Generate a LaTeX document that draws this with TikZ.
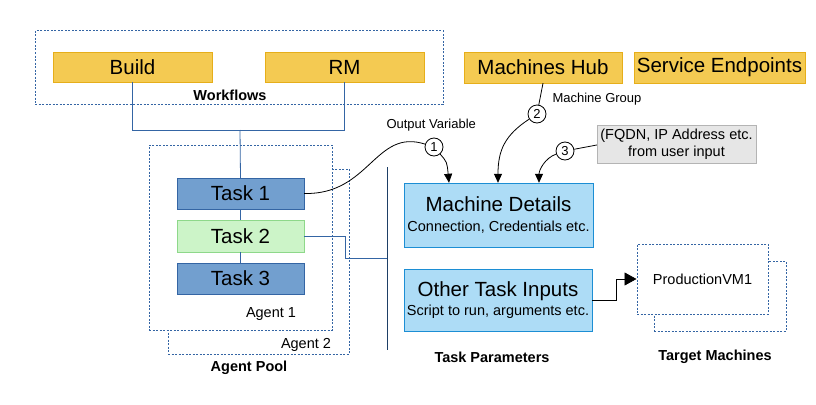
\documentclass[tikz,border=0pt]{standalone}
\usepackage{fontspec}
\setmainfont{Liberation Sans}
\usepackage{xcolor}
\usepackage{tikz}
\usetikzlibrary{arrows.meta,calc}

\definecolor{wfyellow}{HTML}{F4CA52}
\definecolor{wfedge}{HTML}{E6AE1A}
\definecolor{taskblue}{HTML}{729FCF}
\definecolor{taskedge}{HTML}{3465A4}
\definecolor{taskgreen}{HTML}{CCF4C8}
\definecolor{greenedge}{HTML}{8ED88A}
\definecolor{parblue}{HTML}{ADDCF6}
\definecolor{paredge}{HTML}{1C8ED4}
\definecolor{notegray}{HTML}{E6E6E6}
\definecolor{noteedge}{HTML}{B4B4B4}
\definecolor{linkblue}{HTML}{3465A4}
\definecolor{barblue}{HTML}{1E3F66}

\newcommand\bigtxt{\fontsize{20.5}{24}\selectfont}
\newcommand\midtxt{\fontsize{14.5}{16}\selectfont}
\newcommand\smalltxt{\fontsize{13}{15}\selectfont}

\begin{document}
\begin{tikzpicture}[x=1pt, y=-1pt,
    wfbox/.style={draw=wfedge, fill=wfyellow, minimum width=159pt, minimum height=30pt, inner sep=0pt, font=\bigtxt},
    taskbox/.style={draw=taskedge, fill=taskblue, minimum width=127pt, minimum height=31pt, inner sep=0pt, font=\bigtxt},
    parbox/.style={draw=paredge, fill=parblue, align=center, inner sep=0pt, minimum width=189pt, font=\fontsize{14.5}{19.5}\selectfont},
    groupbox/.style={draw=linkblue, dash pattern=on 2pt off 1.5pt, line width=1pt, inner sep=0pt},
    grouplabel/.style={font=\midtxt\bfseries},
    link/.style={draw=linkblue, thick},
    flow/.style={draw=black, thick, -{Triangle[length=9pt, width=8pt]}},
    step num/.style={draw, circle, thick, fill=white, minimum size=18pt, inner sep=0pt, font=\smalltxt}]
    \useasboundingbox (0,0) rectangle (816,404);

    % workflows
    \node[groupbox, minimum width=408pt, minimum height=73pt] (wf) at (239,67.5) {};
    \node[wfbox] (build) at (132.5,67) {Build};
    \node[wfbox] (rm) at (344.5,67) {RM};
    \node[grouplabel] (wflabel) at (230,95) {Workflows};

    % agent pool
    \node[groupbox, minimum width=181pt, minimum height=185pt] (agent2) at (258.5,261.5) {};
    \node[groupbox, fill=white, minimum width=183pt, minimum height=185pt] (agent1) at (240.5,237.5) {};
    \node[taskbox] (task1) at (240.5,193.5) {Task 1};
    \node[taskbox, draw=greenedge, fill=taskgreen, minimum height=32pt] (task2) at (240.5,236) {Task 2};
    \node[taskbox] (task3) at (240.5,278.5) {Task 3};
    \node[font=\midtxt] (a1label) at (271,314) {Agent 1};
    \node[font=\midtxt] (a2label) at (306,345) {Agent 2};
    \node[grouplabel] (poollabel) at (249,368) {Agent Pool};

    \coordinate (wfjoin) at (240,130);
    \draw[link] (build.south) |- (rm.south |- wfjoin) -- (rm.south);
    \draw[link] (wfjoin) -- (task1.north);
    \draw[link] (task1) -- (task2);
    \draw[link] (task2) -- (task3);

    % task parameters
    \coordinate (bartop) at (387,167);
    \coordinate (barbot) at (387,350);
    \coordinate (tpjoin) at (387,258);
    \draw[barblue, thick] (bartop) -- (barbot);
    \draw[link] (task2.east) -- ++(41,0) |- (tpjoin);

    \node[parbox, minimum height=64pt] (md) at (498.5,215)
      {{\bigtxt Machine Details}\\Connection, Credentials etc.};
    \node[parbox, minimum width=188pt, minimum height=62pt] (oti) at (498,300)
      {{\bigtxt Other Task Inputs}\\Script to run, arguments etc.};
    \node[grouplabel] (tplabel) at (492,357) {Task Parameters};

    % sources
    \node[wfbox, minimum width=158pt, minimum height=31pt] (hub) at (543,67.5) {Machines Hub};
    \node[wfbox, minimum width=171pt, minimum height=31pt] (svc) at (719.5,67.5) {Service Endpoints};
    \node[draw=noteedge, fill=notegray, minimum width=159pt, minimum height=38pt, inner sep=0pt, align=center, font=\fontsize{14.5}{17}\selectfont] (note) at (676.5,144)
      {(FQDN, IP Address etc.\\from user input};

    \node[step num] (c1) at (434,147) {1};
    \node[step num] (c2) at (537,114) {2};
    \node[step num] (c3) at (565,151) {3};
    \node[anchor=west, font=\smalltxt] (outvar) at (383,125) {Output Variable};
    \node[anchor=west, font=\smalltxt] (mgroup) at (549,99) {Machine Group};

    \draw[thick] (task1.east) .. controls (370,195) and (375,128) .. (c1);
    \draw[flow] (c1) .. controls (447,162) .. (md.north -| 449,0);
    \draw[thick] (hub.south -| 543,0) -- (c2);
    \draw[flow] (c2) .. controls (505,135) and (498,150) .. (md.north -| 498,0);
    \draw[thick] (note.west |- 0,145) -- (c3);
    \draw[flow] (c3) .. controls (545,158) and (539,170) .. (md.north -| 539,0);

    % target machines
    \node[groupbox, minimum width=132pt, minimum height=70pt] (tm2) at (720,296) {};
    \node[groupbox, fill=white, minimum width=131pt, minimum height=70pt, font=\midtxt] (tm1) at (702.5,279) {ProductionVM1};
    \node[grouplabel] (tmlabel) at (715,357) {Target Machines};
    \draw[thick, -{Triangle[length=12pt, width=13pt]}] (oti.east) -- ++(24,0) |- (tm1.west);
\end{tikzpicture}
\end{document}
